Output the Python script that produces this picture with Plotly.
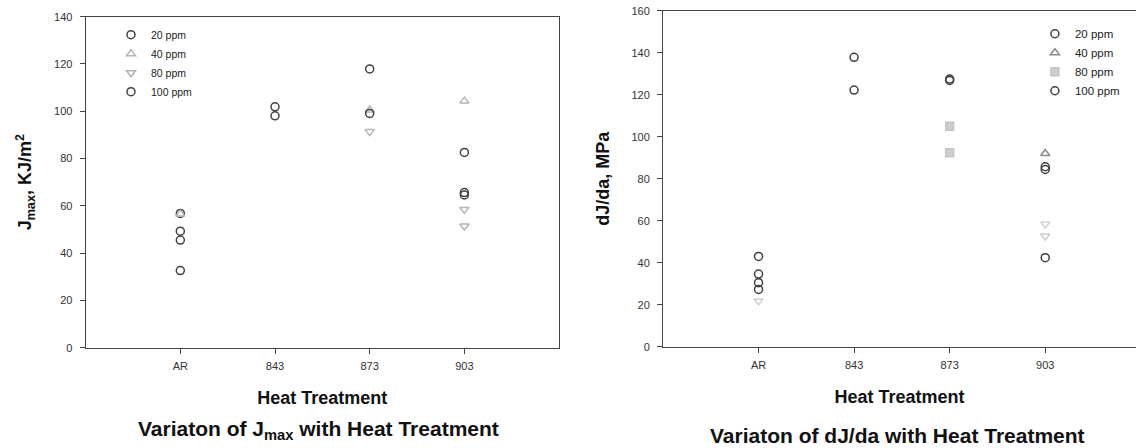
import plotly.graph_objects as go

# ---------------- data ----------------
categories = ["AR", "843", "873", "903"]

# Left: J_max (KJ/m^2)
jmax_20_x = ["AR", "AR", "843", "873", "903", "903"]
jmax_20_y = [56.8, 45.5, 101.9, 117.9, 82.6, 65.6]
jmax_40_x = ["AR", "873", "903"]
jmax_40_y = [56.5, 100.5, 104.3]
jmax_80_x = ["873", "903", "903"]
jmax_80_y = [91.4, 58.5, 51.5]
jmax_100_x = ["AR", "AR", "843", "873", "903"]
jmax_100_y = [49.3, 32.6, 98.1, 99.1, 64.6]

# Right: dJ/da (MPa)
djda_20_x = ["AR", "AR", "843", "873", "903"]
djda_20_y = [43.0, 30.5, 137.8, 127.5, 85.7]
djda_40_x = ["903"]
djda_40_y = [92.0]
djda_80_x = ["873", "873", "AR", "903", "903"]
djda_80_y = [105.0, 92.4, 21.8, 58.4, 52.7]
djda_100_x = ["AR", "AR", "843", "873", "903", "903"]
djda_100_y = [34.6, 27.3, 122.2, 126.8, 84.4, 42.4]

series_names = ["20 ppm", "40 ppm", "80 ppm", "100 ppm"]

# ---------------- styles ----------------
FONT = "Liberation Sans, Arial, sans-serif"
DARK = "#404040"
LIGHT = "#b4b4b4"

def mk(symbol, color, size=8, width=1.5):
    return dict(symbol=symbol, size=size, color=color, line=dict(color=color, width=width))

fig = go.Figure()

left_series = [
    (jmax_20_x, jmax_20_y, mk("circle-open", DARK)),
    (jmax_40_x, jmax_40_y, mk("triangle-up-open", LIGHT)),
    (jmax_80_x, jmax_80_y, mk("triangle-down-open", LIGHT)),
    (jmax_100_x, jmax_100_y, mk("circle-open", DARK)),
]
for name, (xs, ys, m) in zip(series_names, left_series):
    fig.add_trace(go.Scatter(x=xs, y=ys, mode="markers", name=name, marker=m,
                             xaxis="x", yaxis="y", legend="legend"))

right_80_symbols = ["square", "square", "triangle-down-open", "triangle-down-open", "triangle-down-open"]
right_series = [
    (djda_20_x, djda_20_y, mk("circle-open", DARK)),
    (djda_40_x, djda_40_y, mk("triangle-up-open", "#8a8a8a")),
    (djda_80_x, djda_80_y, dict(symbol=right_80_symbols, size=8, color="#cdcdcd",
                                line=dict(color="#c4c4c4", width=1.4))),
    (djda_100_x, djda_100_y, mk("circle-open", DARK)),
]
for name, (xs, ys, m) in zip(series_names, right_series):
    fig.add_trace(go.Scatter(x=xs, y=ys, mode="markers", name=name, marker=m,
                             xaxis="x2", yaxis="y2", legend="legend2"))

axis_common = dict(showline=True, linecolor="#444", linewidth=1, mirror=True,
                   ticks="outside", ticklen=5, tickcolor="#444", showgrid=False,
                   zeroline=False, automargin=False,
                   tickfont=dict(family=FONT, size=11, color="#333"))

xt = dict(text="<b>Heat Treatment</b>", font=dict(size=18, family=FONT), standoff=20)

fig.update_layout(
    width=1136, height=448,
    margin=dict(l=0, r=0, t=0, b=0, autoexpand=False),
    paper_bgcolor="white", plot_bgcolor="white",
    font=dict(family=FONT, color="#111"),
    xaxis=dict(domain=[0.0754, 0.4921], type="category", categoryorder="array",
               categoryarray=categories, range=[-1, 4.0], anchor="y",
               title=xt, ticklabelstandoff=3, **axis_common),
    yaxis=dict(domain=[0.2239, 0.9627], range=[0, 140], dtick=20, anchor="x",
               title=dict(text="<b>J<sub>max</sub>, KJ/m<sup>2</sup></b>", font=dict(size=18, family=FONT), standoff=17),
               ticklabelstandoff=5, **axis_common),
    xaxis2=dict(domain=[0.5836, 1.0], type="category", categoryorder="array",
                categoryarray=categories, range=[-1, 3.95], anchor="y2",
                title=xt, ticklabelstandoff=3, **axis_common),
    yaxis2=dict(domain=[0.2261, 0.976], range=[0, 160], dtick=20, anchor="x2",
                title=dict(text="<b>dJ/da, MPa</b>", font=dict(size=18, family=FONT), standoff=17),
                ticklabelstandoff=5, **axis_common),
    legend=dict(x=0.0977, y=0.955, xanchor="left", yanchor="top", bgcolor="rgba(0,0,0,0)",
                font=dict(size=10.5, family=FONT, color="#222"), tracegroupgap=0,
                itemwidth=30),
    legend2=dict(x=0.911, y=0.957, xanchor="left", yanchor="top", bgcolor="rgba(0,0,0,0)",
                 font=dict(size=11.5, family=FONT, color="#222"), tracegroupgap=0,
                 itemwidth=30),
    showlegend=True,
    annotations=[
        dict(text="<b>Variaton of J<sub>max</sub> with Heat Treatment</b>", x=318 / 1136, y=1 - 430 / 448,
             xref="paper", yref="paper", showarrow=False, xanchor="center", yanchor="middle",
             font=dict(size=21, family=FONT, color="#111")),
        dict(text="<b>Variaton of dJ/da with Heat Treatment</b>", x=897 / 1136, y=1 - 435 / 448,
             xref="paper", yref="paper", showarrow=False, xanchor="center", yanchor="middle",
             font=dict(size=21, family=FONT, color="#111")),
    ],
)

fig.write_html("out.html", config={"displayModeBar": False},
               post_script="document.body.style.margin='0px';document.body.style.overflow='hidden';")
